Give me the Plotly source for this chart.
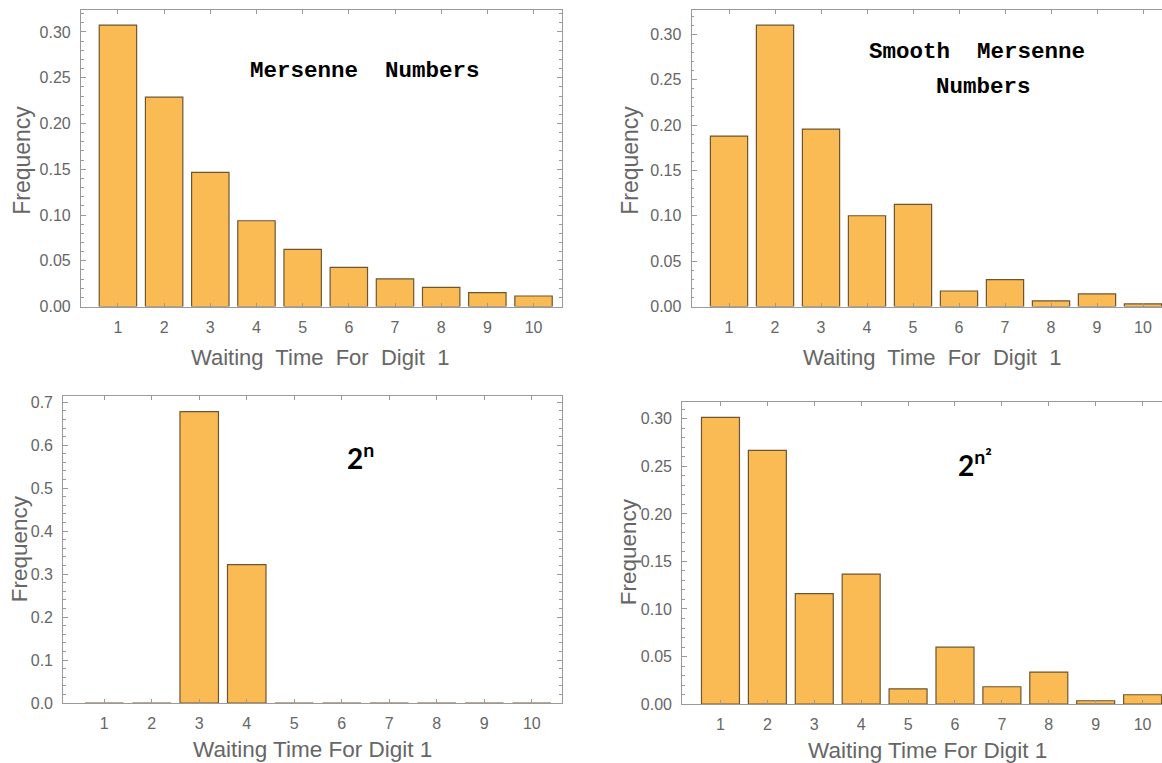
import plotly.graph_objects as go

W, H = 1162, 763
H_PAGE = 773  # rendered page is squeezed vertically by ~763/773 in the photograph

# ---- data ----
waiting_time = [1, 2, 3, 4, 5, 6, 7, 8, 9, 10]
mersenne = [0.3075, 0.2288, 0.1466, 0.0938, 0.0625, 0.0429, 0.0302, 0.0211, 0.0153, 0.0116]
smooth_mersenne = [0.1878, 0.3100, 0.1955, 0.1001, 0.1126, 0.0172, 0.0298, 0.0062, 0.0140, 0.0030]
pow2_n = [0.0, 0.0, 0.678, 0.322, 0.0, 0.0, 0.0, 0.0, 0.0, 0.0]
pow2_n2 = [0.3015, 0.2668, 0.1162, 0.1367, 0.0160, 0.0598, 0.0182, 0.0336, 0.0035, 0.0098]

x_title = "Waiting Time For Digit 1"
x_title_wide = "Waiting\u00a0 Time\u00a0 For\u00a0 Digit\u00a0 1"
y_title = "Frequency"

# ---- style ----
BAR_FILL = "#FBBB54"
BAR_EDGE = "#6E5532"
FRAME = "#9a9a9a"
TXT = "#666666"
SANS = "Liberation Sans, Arial, sans-serif"
MONO = "Liberation Mono, Courier New, monospace"
BOLD = "Lato, Open Sans, sans-serif"

def px_x(p):
    return p / W

def px_y(p):
    return 1 - p / H

panels = [
    dict(series=mersenne, box=(81, 561.7, 8.3, 305), xr=[0.2, 10.61], yr=[0, 0.3237], dt=0.05, mdt=0.01, fmt=".2f", full=True),
    dict(series=smooth_mersenne, box=(691.7, 1162, 8.3, 305), xr=[0.189, 10.413], yr=[0, 0.3264], dt=0.05, mdt=0.01, fmt=".2f", full=False),
    dict(series=pow2_n, box=(63.3, 561.7, 394.3, 702), xr=[0.139, 10.63], yr=[0, 0.715], dt=0.1, mdt=0.02, fmt=".1f", full=True),
    dict(series=pow2_n2, box=(682.3, 1162, 400.7, 703), xr=[0.186, 10.414], yr=[0, 0.3175], dt=0.05, mdt=0.01, fmt=".2f", full=False),
]

fig = go.Figure()
layout = dict(
    width=W, height=H_PAGE, autosize=False,
    margin=dict(l=0, r=0, t=0, b=0),
    paper_bgcolor="white", plot_bgcolor="white",
    showlegend=False,
    annotations=[],
)

for i, p in enumerate(panels, start=1):
    sfx = "" if i == 1 else str(i)
    l, r, t, b = p["box"]
    fig.add_trace(go.Bar(
        x=waiting_time, y=p["series"],
        xaxis="x" + sfx, yaxis="y" + sfx,
        width=0.81,
        marker=dict(color=BAR_FILL, line=dict(color=BAR_EDGE, width=1.2)),
        hoverinfo="x+y",
    ))
    layout["xaxis" + sfx] = dict(
        domain=[px_x(l), min(1.0, px_x(r))],
        anchor="y" + sfx,
        range=p["xr"],
        tickvals=waiting_time,
        ticktext=[str(v) for v in waiting_time],
        ticks="inside", ticklen=4, tickcolor=FRAME, tickwidth=1,
        showline=True, linecolor=FRAME, linewidth=1.2,
        mirror="ticks",
        showgrid=False, zeroline=False,
        tickfont=dict(family=SANS, size=16, color=TXT),
        ticklabelstandoff=6,
        fixedrange=True,
    )
    layout["yaxis" + sfx] = dict(
        domain=[px_y(b), px_y(t)],
        anchor="x" + sfx,
        range=p["yr"],
        dtick=p["dt"], tick0=0,
        tickformat=p["fmt"],
        ticks="inside", ticklen=5, tickcolor=FRAME, tickwidth=1,
        minor=dict(ticks="inside", ticklen=2.5, dtick=p["mdt"], tickcolor=FRAME, showgrid=False),
        showline=True, linecolor=FRAME, linewidth=1.2,
        mirror="ticks" if p["full"] else False,
        showgrid=False, zeroline=False,
        tickfont=dict(family=SANS, size=16, color=TXT),
        ticklabelstandoff=6,
        fixedrange=True,
    )

ann = layout["annotations"]
ann.append(dict(text=x_title_wide, x=px_x(320), y=px_y(356), xref="paper", yref="paper",
                showarrow=False, font=dict(family=SANS, size=22, color=TXT), xanchor="center", yanchor="middle"))
ann.append(dict(text=x_title_wide, x=px_x(932), y=px_y(356), xref="paper", yref="paper",
                showarrow=False, font=dict(family=SANS, size=22, color=TXT), xanchor="center", yanchor="middle"))
ann.append(dict(text=x_title, x=px_x(312), y=px_y(748), xref="paper", yref="paper",
                showarrow=False, font=dict(family=SANS, size=22.5, color=TXT), xanchor="center", yanchor="middle"))
ann.append(dict(text=x_title, x=px_x(927), y=px_y(749), xref="paper", yref="paper",
                showarrow=False, font=dict(family=SANS, size=22.5, color=TXT), xanchor="center", yanchor="middle"))
for (cx, cy, fs) in [(22, 159, 23), (630, 159, 23), (19, 548, 22.5), (628, 551, 22.5)]:
    ann.append(dict(text=y_title, x=px_x(cx), y=px_y(cy), xref="paper", yref="paper", textangle=-90,
                    showarrow=False, font=dict(family=SANS, size=fs, color=TXT), xanchor="center", yanchor="middle"))
ann.append(dict(text="<b>Mersenne  Numbers</b>", x=px_x(365), y=px_y(69), xref="paper", yref="paper",
                showarrow=False, font=dict(family=MONO, size=22.5, color="black"), xanchor="center", yanchor="middle"))
ann.append(dict(text="<b>Smooth  Mersenne</b>", x=px_x(977), y=px_y(50), xref="paper", yref="paper",
                showarrow=False, font=dict(family=MONO, size=22.5, color="black"), xanchor="center", yanchor="middle"))
ann.append(dict(text="<b>Numbers</b>", x=px_x(983), y=px_y(85), xref="paper", yref="paper",
                showarrow=False, font=dict(family=MONO, size=22.5, color="black"), xanchor="center", yanchor="middle"))
ann.append(dict(text="<b>2<sup>n</sup></b>", x=px_x(360), y=px_y(455), xref="paper", yref="paper",
                showarrow=False, font=dict(family=BOLD, size=28, color="black"), xanchor="center", yanchor="middle"))
ann.append(dict(text="<b>2<sup>n²</sup></b>", x=px_x(975), y=px_y(462), xref="paper", yref="paper",
                showarrow=False, font=dict(family=BOLD, size=28, color="black"), xanchor="center", yanchor="middle"))

fig.update_layout(**layout)

post = (
    "document.body.style.margin='0';document.body.style.padding='0';"
    "document.body.style.overflow='hidden';"
)

fig.write_html(
    "out.html",
    config={"displayModeBar": False},
    default_width="%dpx" % W,
    default_height="%dpx" % H_PAGE,
    post_script=post,
)
